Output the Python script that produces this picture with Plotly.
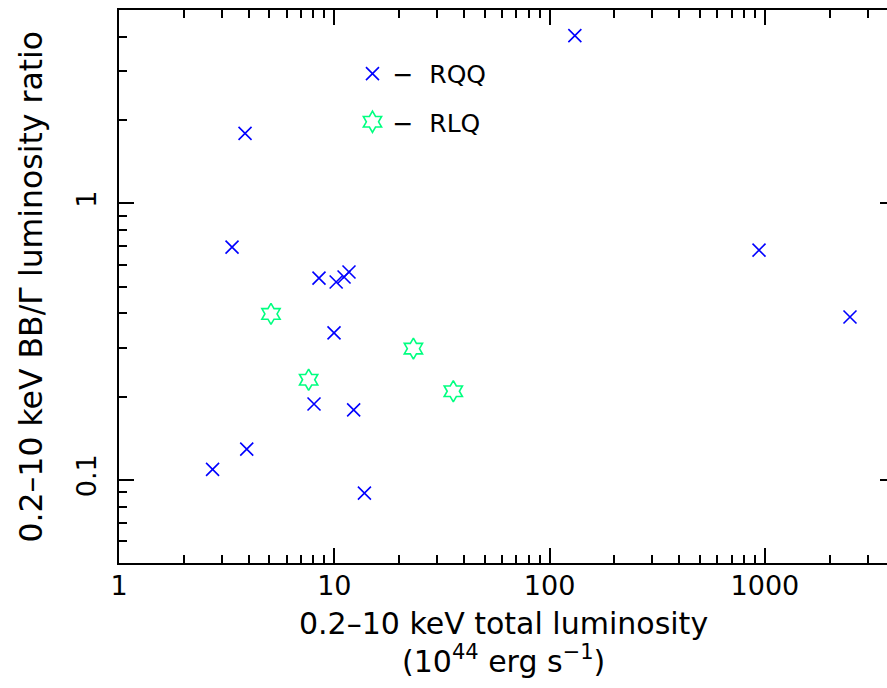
import plotly.graph_objects as go
import math

# RQQ (radio-quiet quasars)
rqq_lum = [131, 3.85, 3.35, 8.49, 10.2, 11.1, 11.7, 9.97, 8.05, 12.3, 3.92, 2.72, 13.8, 939, 2484]
rqq_ratio = [4.04, 1.79, 0.694, 0.536, 0.519, 0.541, 0.564, 0.34, 0.188, 0.179, 0.129, 0.109, 0.0895, 0.677, 0.388]

# RLQ (radio-loud quasars)
rlq_lum = [5.08, 23.3, 7.6, 35.7]
rlq_ratio = [0.398, 0.298, 0.23, 0.209]

x_ticks = [1, 10, 100, 1000]
x_ticktext = ["1", "10", "100", "1000"]
y_ticks = [0.1, 1]
y_ticktext = ["0.1", "1"]

x_minor = [2, 3, 4, 5, 6, 7, 8, 9, 20, 30, 40, 50, 60, 70, 80, 90,
           200, 300, 400, 500, 600, 700, 800, 900, 2000, 3000]
y_minor = [0.06, 0.07, 0.08, 0.09, 0.2, 0.3, 0.4, 0.5, 0.6, 0.7, 0.8, 0.9, 2, 3, 4, 5]

FONT = "DejaVu Sans"
BLUE = "#0000ff"
GREEN = "#00ff80"
Y_RANGE = [math.log10(0.05), math.log10(5)]

fig = go.Figure()
fig.add_trace(go.Scatter(
    x=rqq_lum, y=rqq_ratio, mode="markers", name="−  RQQ", showlegend=True,
    marker=dict(symbol="x-thin-open", size=13, color=BLUE, line=dict(color=BLUE, width=1.6)),
    legend="legend",
))
fig.add_trace(go.Scatter(
    x=rlq_lum, y=rlq_ratio, mode="markers", name="−  RLQ", showlegend=True,
    marker=dict(symbol="hexagram-open", size=16, color=GREEN, line=dict(color=GREEN, width=1.6)),
    legend="legend2",
))
# invisible copy on the right-hand axis so that its ticks are drawn
fig.add_trace(go.Scatter(
    x=rqq_lum, y=rqq_ratio, mode="markers", yaxis="y2", showlegend=False,
    hoverinfo="skip", marker=dict(opacity=0, size=1),
))

tickfont = dict(family=FONT, size=27, color="black")

fig.update_layout(
    width=887, height=688,
    margin=dict(l=119, r=0, t=10, b=125),
    plot_bgcolor="white", paper_bgcolor="white",
    showlegend=True,
    xaxis=dict(
        type="log", showgrid=False, zeroline=False, showline=True, linecolor="black",
        linewidth=2, mirror="ticks", ticks="inside", ticklen=15, tickwidth=2,
        tickcolor="black", tickfont=tickfont,
        range=[0, math.log10(3690)],
        tickmode="array", tickvals=x_ticks, ticktext=x_ticktext,
        ticklabelstandoff=-2,
        minor=dict(tickmode="array", tickvals=x_minor, ticks="inside", ticklen=8,
                   tickwidth=2, tickcolor="black", showgrid=False),
    ),
    yaxis=dict(
        type="log", showgrid=False, zeroline=False, showline=True, linecolor="black",
        linewidth=2, mirror=False, ticks="inside", ticklen=15, tickwidth=2,
        tickcolor="black", tickfont=tickfont,
        range=Y_RANGE,
        tickmode="array", tickvals=y_ticks, ticktext=y_ticktext,
        tickangle=-90, ticklabelstandoff=10,
        minor=dict(tickmode="array", tickvals=y_minor, ticks="inside", ticklen=8,
                   tickwidth=2, tickcolor="black", showgrid=False),
    ),
    yaxis2=dict(
        type="log", overlaying="y", side="right", anchor="x",
        showgrid=False, zeroline=False, showline=False,
        ticks="inside", ticklen=7, tickwidth=2, tickcolor="black",
        showticklabels=False, range=Y_RANGE,
        tickmode="array", tickvals=y_ticks,
    ),
    legend=dict(x=0.304, y=0.926, xanchor="left", yanchor="top",
                font=dict(family=FONT, size=25, color="black"),
                bgcolor="rgba(0,0,0,0)", borderwidth=0),
    legend2=dict(x=0.304, y=0.839, xanchor="left", yanchor="top",
                 font=dict(family=FONT, size=25, color="black"),
                 bgcolor="rgba(0,0,0,0)", borderwidth=0),
    annotations=[
        dict(text="0.2–10 keV total luminosity", xref="paper", yref="paper",
             x=0.5, y=0, xanchor="center", yanchor="middle", yshift=-60,
             showarrow=False, font=dict(family=FONT, size=30, color="black")),
        dict(text="(10<sup>44</sup> erg s<sup>−1</sup>)", xref="paper", yref="paper",
             x=0.5, y=0, xanchor="center", yanchor="middle", yshift=-96,
             showarrow=False, font=dict(family=FONT, size=30, color="black")),
        dict(text="0.2–10 keV BB/Γ luminosity ratio", xref="paper", yref="paper",
             x=0, y=0.5, xanchor="center", yanchor="middle", xshift=-89, yshift=0,
             textangle=-90, showarrow=False, font=dict(family=FONT, size=31.5, color="black")),
    ],
)

fig.write_html("out.html")
